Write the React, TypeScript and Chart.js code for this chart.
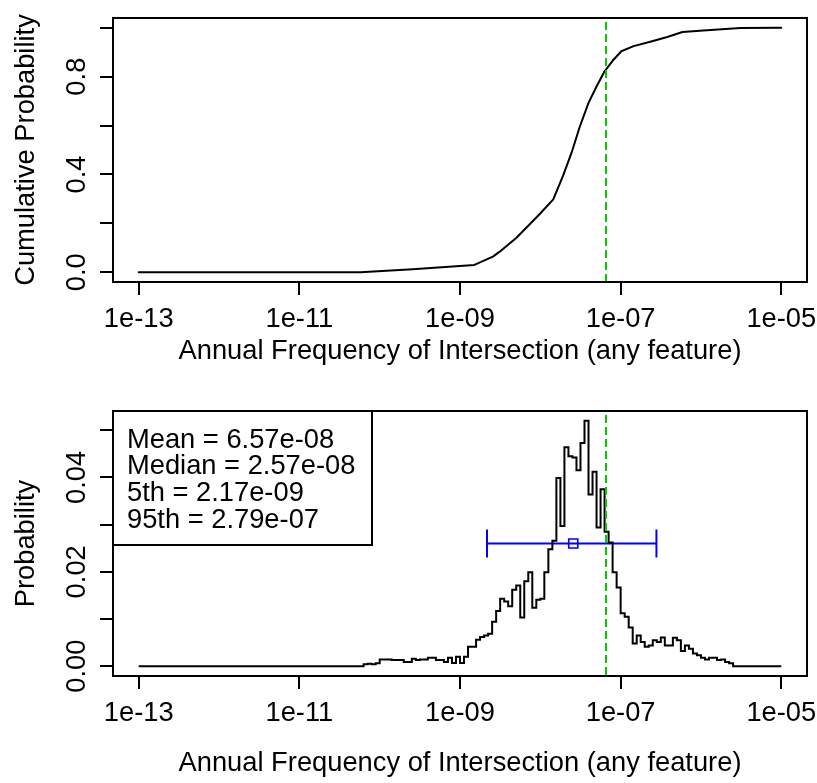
import React, { useEffect, useRef } from "react";
import { Chart, registerables } from "chart.js";

Chart.register(...registerables);

const FONT = "'Liberation Sans', Arial, Helvetica, sans-serif";
const FONT_SIZE = 27.3;

// ---- shared axis data ----
const xRangeLog = [-13.32, -4.68];
const xTickValues = [1e-13, 1e-11, 1e-9, 1e-7, 1e-5];
const xTickLabels = ["1e-13", "1e-11", "1e-09", "1e-07", "1e-05"];
const xTitle = "Annual Frequency of Intersection (any feature)";

// ---- top panel: cumulative distribution ----
const topYTitle = "Cumulative Probability";
const topYRange = [-0.04, 1.04];
const topYTicks = [0, 0.2, 0.4, 0.6, 0.8, 1.0];
const topYTickLabels = ["0.0", "", "0.4", "", "0.8", ""];
const cdfX = [
  1e-13, 5.75e-11, 2.57e-10, 1.51e-9, 2.57e-9, 3.09e-9, 5.01e-9, 9.77e-9,
  1.45e-8, 1.91e-8, 2.45e-8, 3.09e-8, 3.98e-8, 5.01e-8, 6.31e-8, 7.94e-8,
  1.02e-7, 1.45e-7, 2.4e-7, 3.8e-7, 5.89e-7, 1.07e-6, 3.09e-6, 1e-5,
];
const cdfY = [
  0, 0, 0.012, 0.03, 0.064, 0.083, 0.14, 0.237,
  0.298, 0.393, 0.489, 0.594, 0.693, 0.76, 0.822, 0.865,
  0.904, 0.925, 0.944, 0.962, 0.983, 0.989, 0.999, 1.0,
];

// ---- bottom panel: histogram ----
const bottomYTitle = "Probability";
const bottomYRange = [-0.00208, 0.05408];
const bottomYTicks = [0, 0.01, 0.02, 0.03, 0.04, 0.05];
const bottomYTickLabels = ["0.00", "", "0.02", "", "0.04", ""];
const histRangeStart = 1e-13;
const histRangeEnd = 1e-5;
const histFirstBreakLog = -10.2;
const histBinWidthLog = 0.05;
const histValues = [
  0.0004, 0.0005, 0.0004, 0.0006, 0.0014, 0.0014, 0.0014, 0.0013, 0.0013, 0.0013,
  0.0009, 0.0009, 0.0016, 0.0013, 0.0014, 0.0014, 0.0018, 0.0018, 0.0013, 0.0013,
  0.0009, 0.0018, 0.0007, 0.002, 0.0007, 0.002, 0.0041, 0.0041, 0.0056, 0.0062,
  0.0065, 0.0069, 0.0094, 0.0117, 0.0143, 0.0137, 0.0127, 0.0162, 0.0171, 0.0103,
  0.018, 0.0199, 0.0124, 0.0141, 0.0143, 0.0199, 0.0248, 0.0266, 0.0399, 0.0297,
  0.0464, 0.0445, 0.0442, 0.0415, 0.0473, 0.052, 0.0364, 0.0412, 0.0294, 0.0375,
  0.0285, 0.0262, 0.0199, 0.0167, 0.0112, 0.0105, 0.0082, 0.0048, 0.0065, 0.0051,
  0.0041, 0.0044, 0.0055, 0.0051, 0.0061, 0.0044, 0.0044, 0.006, 0.0055, 0.0032,
  0.0044, 0.0037, 0.0027, 0.0023, 0.0018, 0.0014, 0.0018, 0.0018, 0.0013, 0.0014,
  0.0009, 0.0006,
];

// ---- statistics ----
const meanValue = 6.57e-8;
const medianValue = 2.57e-8;
const p5Value = 2.17e-9;
const p95Value = 2.79e-7;
const intervalLevel = 0.026;
const statLines = [
  "Mean = 6.57e-08",
  "Median = 2.57e-08",
  "5th = 2.17e-09",
  "95th = 2.79e-07",
];

Chart.defaults.font.family = FONT;
Chart.defaults.color = "#000";

const framePlugin = {
  id: "frame",
  afterDraw(chart: any) {
    const { ctx, chartArea: a } = chart;
    ctx.save();
    ctx.strokeStyle = "#000";
    ctx.lineWidth = 2;
    ctx.strokeRect(a.left, a.top, a.right - a.left, a.bottom - a.top);
    ctx.restore();
  },
};

function yLabelPlugin(values: number[], labels: string[]) {
  return {
    id: "yLabels",
    afterDraw(chart: any) {
      const s = chart.scales.y;
      const ctx = chart.ctx;
      const a = chart.chartArea;
      ctx.save();
      ctx.fillStyle = "#000";
      ctx.font = `${FONT_SIZE}px ${FONT}`;
      ctx.textAlign = "center";
      ctx.textBaseline = "alphabetic";
      values.forEach((v, i) => {
        if (!labels[i]) return;
        const y = s.getPixelForValue(v);
        ctx.save();
        ctx.translate(a.left - 28, y);
        ctx.rotate(-Math.PI / 2);
        ctx.fillText(labels[i], 0, 0);
        ctx.restore();
      });
      ctx.restore();
    },
  };
}

const meanLinePlugin = {
  id: "meanLine",
  afterDatasetsDraw(chart: any) {
    const { ctx, chartArea: a } = chart;
    const x = chart.scales.x.getPixelForValue(meanValue);
    ctx.save();
    ctx.strokeStyle = "#00CD00";
    ctx.lineWidth = 2;
    ctx.setLineDash([8, 4]);
    ctx.lineDashOffset = 8;
    ctx.beginPath();
    ctx.moveTo(x, a.top);
    ctx.lineTo(x, a.bottom);
    ctx.stroke();
    ctx.restore();
  },
};

const capsPlugin = {
  id: "caps",
  afterDatasetsDraw(chart: any) {
    const { ctx } = chart;
    const y = chart.scales.y.getPixelForValue(intervalLevel);
    ctx.save();
    ctx.strokeStyle = "#0000FF";
    ctx.lineWidth = 2;
    [p5Value, p95Value].forEach((v) => {
      const x = chart.scales.x.getPixelForValue(v);
      ctx.beginPath();
      ctx.moveTo(x, y - 14);
      ctx.lineTo(x, y + 14);
      ctx.stroke();
    });
    ctx.restore();
  },
};

const statsBoxPlugin = {
  id: "statsBox",
  afterDraw(chart: any) {
    const { ctx, chartArea: a } = chart;
    ctx.save();
    ctx.fillStyle = "#fff";
    ctx.fillRect(a.left, a.top, 259, 134);
    ctx.strokeStyle = "#000";
    ctx.lineWidth = 2;
    ctx.strokeRect(a.left, a.top, 259, 134);
    ctx.fillStyle = "#000";
    ctx.font = `${FONT_SIZE}px ${FONT}`;
    ctx.textAlign = "left";
    ctx.textBaseline = "alphabetic";
    statLines.forEach((t, i) => {
      ctx.fillText(t, a.left + 14, a.top + 36.5 + i * 26.7);
    });
    ctx.restore();
  },
};

function xScale(axisHeight: number, titlePadBottom: number) {
  return {
    type: "logarithmic",
    min: Math.pow(10, xRangeLog[0]),
    max: Math.pow(10, xRangeLog[1]),
    bounds: "data",
    afterBuildTicks: (s: any) => {
      s.ticks = xTickValues.map((v) => ({ value: v }));
    },
    afterFit: (s: any) => {
      s.height = axisHeight;
      s.paddingLeft = 0;
      s.paddingRight = 0;
    },
    ticks: {
      callback: (_v: any, i: number) => xTickLabels[i],
      font: { size: FONT_SIZE },
      color: "#000",
      padding: 8.2,
      maxRotation: 0,
      minRotation: 0,
      autoSkip: false,
    },
    grid: { drawOnChartArea: false, drawTicks: true, tickLength: 13, color: "#000", lineWidth: 2 },
    border: { display: false },
    title: {
      display: true,
      text: xTitle,
      font: { size: FONT_SIZE },
      color: "#000",
      padding: { top: 0, bottom: titlePadBottom },
    },
  };
}

function yScale(range: number[], ticks: number[], title: string) {
  return {
    type: "linear",
    min: range[0],
    max: range[1],
    afterBuildTicks: (s: any) => {
      s.ticks = ticks.map((v) => ({ value: v }));
    },
    afterFit: (s: any) => {
      s.width = 113;
      s.paddingTop = 0;
      s.paddingBottom = 0;
    },
    ticks: { display: false },
    grid: { drawOnChartArea: false, drawTicks: true, tickLength: 13, color: "#000", lineWidth: 2 },
    border: { display: false },
    title: {
      display: true,
      text: title,
      font: { size: FONT_SIZE },
      color: "#000",
      padding: { top: 10, bottom: 0 },
    },
  };
}

export default function App() {
  const topRef = useRef<HTMLCanvasElement | null>(null);
  const botRef = useRef<HTMLCanvasElement | null>(null);

  useEffect(() => {
    const cdfData = cdfX.map((x, i) => ({ x, y: cdfY[i] }));
    const top = new Chart(topRef.current as HTMLCanvasElement, {
      type: "line",
      data: {
        datasets: [
          {
            data: cdfData,
            borderColor: "#000",
            borderWidth: 2,
            pointRadius: 0,
            tension: 0,
            borderJoinStyle: "round",
            borderCapStyle: "round",
          } as any,
        ],
      },
      options: {
        animation: false,
        responsive: false,
        devicePixelRatio: 1,
        layout: { padding: { left: 0, right: 10, top: 18, bottom: 0 } },
        plugins: { legend: { display: false }, tooltip: { enabled: false } },
        scales: {
          x: xScale(111, 24.8) as any,
          y: yScale(topYRange, topYTicks, topYTitle) as any,
        },
      },
      plugins: [framePlugin, meanLinePlugin, yLabelPlugin(topYTicks, topYTickLabels)],
    });

    const histPoints: { x: number; y: number }[] = [{ x: histRangeStart, y: 0 }];
    histValues.forEach((v, i) => {
      histPoints.push({ x: Math.pow(10, histFirstBreakLog + i * histBinWidthLog), y: v });
    });
    histPoints.push({
      x: Math.pow(10, histFirstBreakLog + histValues.length * histBinWidthLog),
      y: 0,
    });
    histPoints.push({ x: histRangeEnd, y: 0 });

    const bottom = new Chart(botRef.current as HTMLCanvasElement, {
      type: "line",
      data: {
        datasets: [
          {
            data: histPoints,
            borderColor: "#000",
            borderWidth: 2,
            pointRadius: 0,
            stepped: "before",
            borderJoinStyle: "miter",
          } as any,
          {
            data: [
              { x: p5Value, y: intervalLevel },
              { x: p95Value, y: intervalLevel },
            ],
            borderColor: "#0000FF",
            borderWidth: 2,
            pointRadius: 0,
          } as any,
          {
            data: [{ x: medianValue, y: intervalLevel }],
            showLine: false,
            pointStyle: "rect",
            pointRadius: 6.4,
            pointBorderWidth: 1.6,
            pointBorderColor: "#0000FF",
            pointBackgroundColor: "rgba(0,0,0,0)",
          } as any,
        ],
      },
      options: {
        animation: false,
        responsive: false,
        devicePixelRatio: 1,
        layout: { padding: { left: 0, right: 10, top: 18, bottom: 0 } },
        plugins: { legend: { display: false }, tooltip: { enabled: false } },
        scales: {
          x: xScale(107, 3) as any,
          y: yScale(bottomYRange, bottomYTicks, bottomYTitle) as any,
        },
      },
      plugins: [
        framePlugin,
        meanLinePlugin,
        capsPlugin,
        yLabelPlugin(bottomYTicks, bottomYTickLabels),
        statsBoxPlugin,
      ],
    });

    return () => {
      top.destroy();
      bottom.destroy();
    };
  }, []);

  return (
    <div
      style={{
        position: "fixed",
        left: 0,
        top: 0,
        width: 817,
        height: 783,
        background: "#fff",
      }}
    >
      <canvas
        ref={topRef}
        width={817}
        height={393}
        style={{ position: "absolute", left: 0, top: 0, display: "block" }}
      />
      <canvas
        ref={botRef}
        width={817}
        height={390}
        style={{ position: "absolute", left: 0, top: 393, display: "block" }}
      />
    </div>
  );
}
